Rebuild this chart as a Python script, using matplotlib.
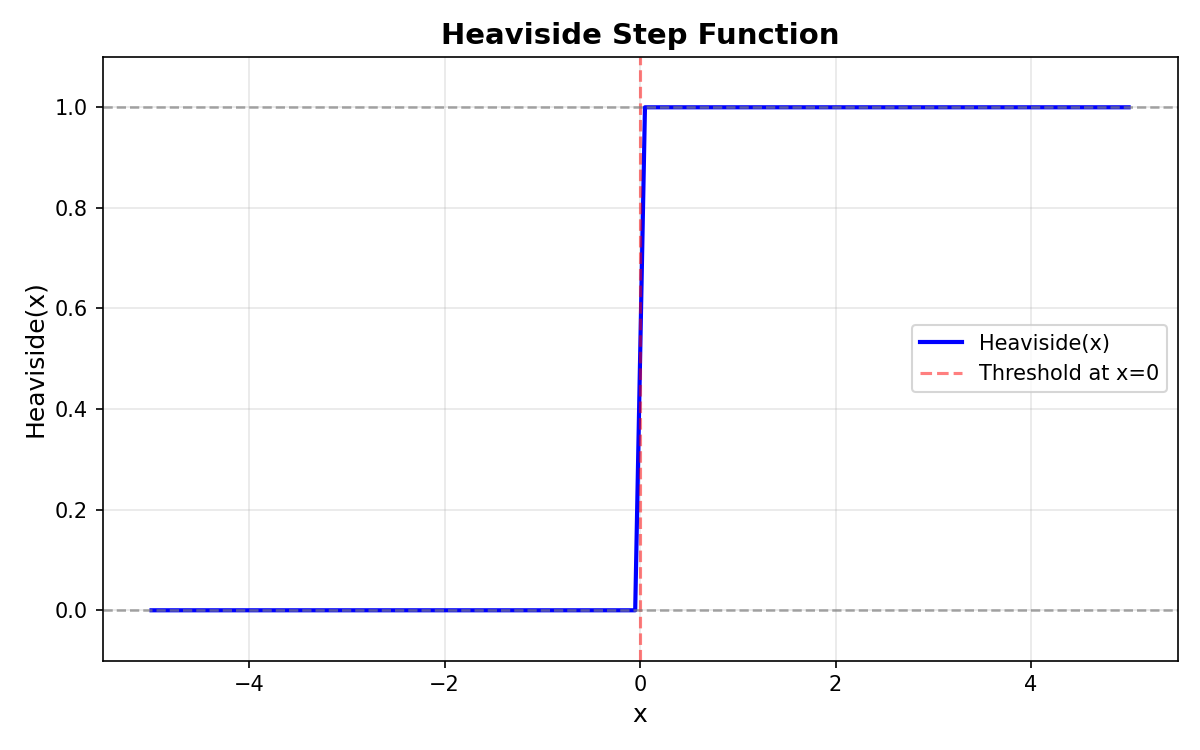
import matplotlib
matplotlib.use("Agg")
import matplotlib.pyplot as plt

# step points
x_vals = [-5.0, -0.05, 0.05, 5.0]
y_vals = [0.0, 0.0, 1.0, 1.0]
threshold = 0.0
ref_levels = [0.0, 1.0]

fig, ax = plt.subplots(figsize=(8, 5), dpi=150)

ax.plot(x_vals, y_vals, color='blue', linewidth=2, label='Heaviside(x)')
ax.axvline(threshold, color='red', linestyle='--', linewidth=1.5, alpha=0.5,
           label='Threshold at x=0')
for lvl in ref_levels:
    ax.axhline(lvl, color='gray', linestyle='--', linewidth=1.2, alpha=0.7)

ax.set_xlim(-5.5, 5.5)
ax.set_ylim(-0.1, 1.1)
ax.set_title('Heaviside Step Function', fontsize=14, fontweight='bold')
ax.set_xlabel('x', fontsize=12)
ax.set_ylabel('Heaviside(x)', fontsize=12)
ax.grid(True, alpha=0.3)
ax.legend(loc='center right')

plt.tight_layout()
plt.savefig('out.png')
